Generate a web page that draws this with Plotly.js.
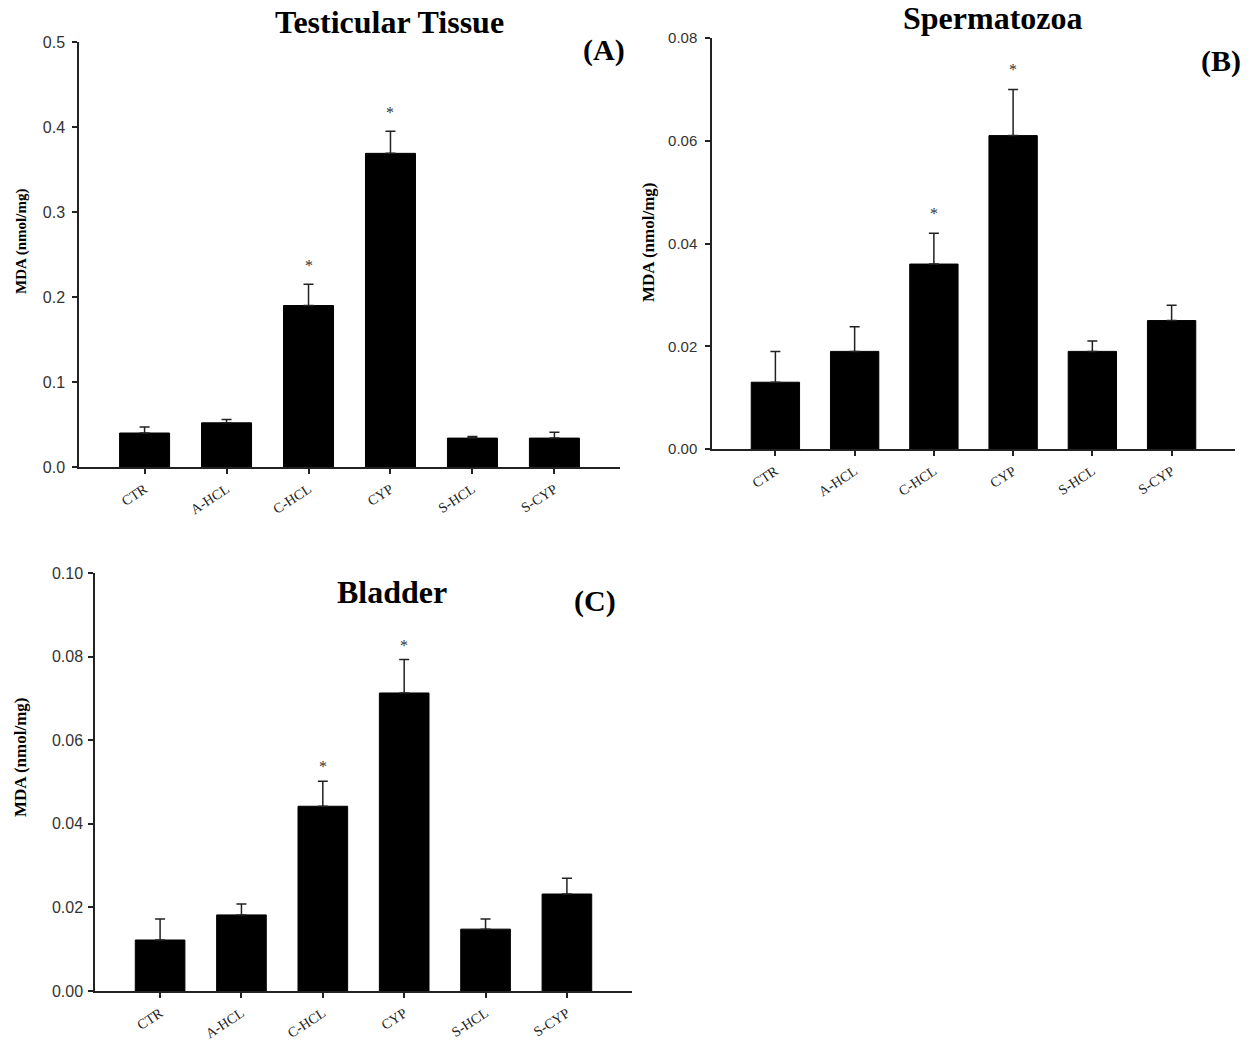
<!DOCTYPE html>
<html>
<head>
<meta charset="utf-8">
<script src="https://cdn.plot.ly/plotly-3.0.0.min.js"></script>
<style>html,body{margin:0;padding:0;background:#fff;}#chart{width:1253px;height:1044px;}</style>
</head>
<body>
<div id="chart"></div>
<script>
const categories = ['CTR', 'A-HCL', 'C-HCL', 'CYP', 'S-HCL', 'S-CYP'];

const testisMean = [0.040, 0.052, 0.190, 0.369, 0.034, 0.034];
const testisSEM  = [0.007, 0.004, 0.025, 0.026, 0.002, 0.007];
const testisSig  = [false, false, true, true, false, false];

const spermMean = [0.013, 0.019, 0.036, 0.061, 0.019, 0.025];
const spermSEM  = [0.006, 0.0048, 0.006, 0.009, 0.002, 0.003];
const spermSig  = [false, false, true, true, false, false];

const bladderMean = [0.0122, 0.0182, 0.0442, 0.0713, 0.0148, 0.0232];
const bladderSEM  = [0.005, 0.0026, 0.006, 0.008, 0.0024, 0.0038];
const bladderSig  = [false, false, true, true, false, false];

const panelTitles = ['Testicular Tissue', 'Spermatozoa', 'Bladder'];
const panelLetters = ['(A)', '(B)', '(C)'];
const yTitle = 'MDA (nmol/mg)';

const serif = '"Liberation Serif", "Times New Roman", serif';
const sans = '"Liberation Sans", Arial, sans-serif';

function barTrace(mean, sem, xa, ya) {
  return {
    type: 'bar', x: categories, y: mean, xaxis: xa, yaxis: ya,
    width: 0.61,
    marker: {color: '#000', line: {color: '#000', width: 1}},
    error_y: {type: 'data', symmetric: false, array: sem, arrayminus: sem.map(() => 0),
              color: '#222', thickness: 1.5, width: 5},
    hoverinfo: 'x+y'
  };
}

const data = [
  barTrace(testisMean, testisSEM, 'x', 'y'),
  barTrace(spermMean, spermSEM, 'x2', 'y2'),
  barTrace(bladderMean, bladderSEM, 'x3', 'y3')
];

function xAxis(domain, anchor, fs) {
  return {
    domain: domain, anchor: anchor, type: 'category', range: [-0.8, 5.8],
    showline: true, linecolor: '#222', linewidth: 1.5,
    ticks: 'outside', ticklen: 5, tickwidth: 1.5, tickcolor: '#222',
    tickangle: -33, tickfont: {family: serif, size: fs, color: '#222'},
    ticklabelstandoff: 2,
    showgrid: false, zeroline: false, fixedrange: true
  };
}
function yAxis(domain, anchor, range, dtick, fmt, fs, so) {
  return {
    domain: domain, anchor: anchor, range: range, dtick: dtick, tickformat: fmt,
    showline: true, linecolor: '#222', linewidth: 1.5,
    ticks: 'outside', ticklen: 5, tickwidth: 1.5, tickcolor: '#222',
    tickfont: {family: sans, size: fs, color: '#333'},
    ticklabelstandoff: so,
    showgrid: false, zeroline: false, fixedrange: true
  };
}

const annotations = [];
function addStars(mean, sem, sig, xa, ya, shift) {
  sig.forEach((s, i) => {
    if (!s) return;
    annotations.push({
      xref: xa, yref: ya, x: categories[i], y: mean[i] + sem[i],
      text: '*', showarrow: false, yanchor: 'bottom', yshift: shift,
      font: {family: serif, size: 16, color: '#333'}
    });
  });
}
addStars(testisMean, testisSEM, testisSig, 'x', 'y', 8);
addStars(spermMean, spermSEM, spermSig, 'x2', 'y2', 9);
addStars(bladderMean, bladderSEM, bladderSig, 'x3', 'y3', 4);

function paperText(text, px, py, size, angle) {
  annotations.push({
    xref: 'paper', yref: 'paper', x: px / 1253, y: 1 - py / 1044,
    xanchor: 'center', yanchor: 'middle', showarrow: false,
    text: '<b>' + text + '</b>', textangle: angle || 0,
    font: {family: serif, size: size, color: '#000'}
  });
}
paperText(panelTitles[0], 389, 22, 32);
paperText(panelLetters[0], 604, 50, 30);
paperText(panelTitles[1], 993, 18, 32);
paperText(panelLetters[1], 1221, 61, 30);
paperText(panelTitles[2], 392, 592, 32);
paperText(panelLetters[2], 595, 601, 30);
paperText(yTitle, 22, 242, 15, -90);
paperText(yTitle, 649, 243, 17, -90);
paperText(yTitle, 20, 758, 17, -90);

const layout = {
  width: 1253, height: 1044,
  margin: {l: 0, r: 0, t: 0, b: 0, pad: 0},
  paper_bgcolor: '#fff', plot_bgcolor: '#fff',
  showlegend: false,
  xaxis: xAxis([79 / 1253, 620 / 1253], 'y', 14),
  yaxis: yAxis([1 - 467 / 1044, 1 - 42 / 1044], 'x', [0, 0.5], 0.1, '.1f', 16, 4),
  xaxis2: xAxis([712 / 1253, 1235 / 1253], 'y2', 14),
  yaxis2: yAxis([1 - 449 / 1044, 1 - 38 / 1044], 'x2', [0, 0.08], 0.02, '.2f', 15, 5),
  xaxis3: xAxis([95 / 1253, 632 / 1253], 'y3', 14),
  yaxis3: yAxis([1 - 991 / 1044, 1 - 573 / 1044], 'x3', [0, 0.1], 0.02, '.2f', 16, 2),
  annotations: annotations
};

Plotly.newPlot('chart', data, layout, {displayModeBar: false});
</script>
</body>
</html>
